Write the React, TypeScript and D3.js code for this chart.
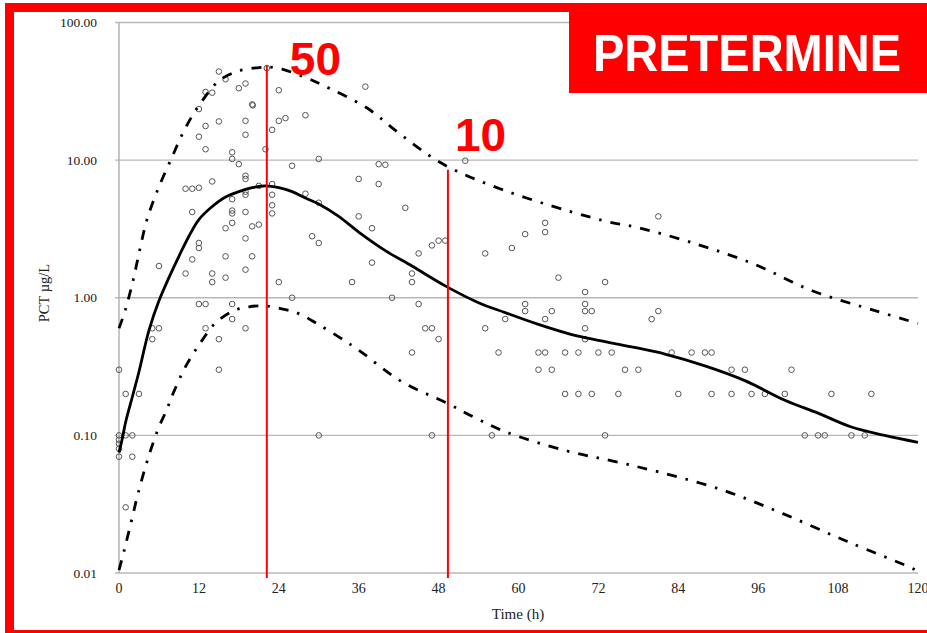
import React from "react";
import * as d3 from "d3";

// ---- data ----
const xTicks = [0, 12, 24, 36, 48, 60, 72, 84, 96, 108, 120];
const yTicks = [0.01, 0.1, 1, 10, 100];
const yTickLabels = ["0.01", "0.10", "1.00", "10.00", "100.00"];

const medianHours = [0, 0.5, 1, 2, 3, 4.5, 6, 7.5, 9, 10.5, 12, 14, 16, 18, 20, 22, 24, 26, 28, 30, 33, 36, 40, 44, 49, 54, 58, 63, 68, 72, 77, 82, 88, 94, 100, 105, 110, 115, 120];
const medianValues = [0.075, 0.095, 0.125, 0.19, 0.29, 0.58, 0.95, 1.4, 2.0, 2.8, 3.7, 4.6, 5.4, 5.9, 6.3, 6.5, 6.3, 5.9, 5.3, 4.8, 3.9, 3.0, 2.2, 1.7, 1.22, 0.92, 0.78, 0.64, 0.54, 0.49, 0.44, 0.39, 0.32, 0.25, 0.18, 0.145, 0.115, 0.1, 0.089];

const upperHours = [0, 0.9, 2.1, 3.15, 4.2, 6, 8, 9.5, 11, 12.5, 15, 18, 21, 22.5, 24.5, 28.5, 30.2, 37.2, 42.2, 48.6, 57.2, 67.3, 74.2, 77.2, 86.2, 95.2, 104.2, 113.8, 120];
const upperValues = [0.6, 0.8, 1.33, 2.26, 3.7, 6.4, 10.6, 15.4, 21, 27, 37.7, 44.5, 47, 47.5, 45.8, 39, 35.8, 24, 15.5, 9.4, 6.2, 4.3, 3.5, 3.3, 2.5, 1.77, 1.12, 0.8, 0.65];

const lowerHours = [0, 0.75, 1.9, 3.05, 4.4, 5.9, 7.2, 8, 9.9, 11.4, 12.6, 14.4, 17.1, 19.5, 22.2, 25, 27.2, 29.7, 33, 36.2, 42.2, 49.4, 53.8, 58.3, 67.3, 74.2, 81.2, 90.7, 99.7, 109.3, 118.8, 120];
const lowerValues = [0.0105, 0.0144, 0.0243, 0.041, 0.069, 0.112, 0.155, 0.195, 0.31, 0.41, 0.5, 0.65, 0.8, 0.86, 0.87, 0.82, 0.76, 0.65, 0.52, 0.41, 0.25, 0.17, 0.132, 0.105, 0.077, 0.065, 0.054, 0.04, 0.027, 0.017, 0.011, 0.0103];

const scatter: [number, number][] = [
  [15, 44], [16, 38.7], [13, 31.3], [14, 30.9], [18, 33.3], [19, 36], [22.2, 46.6], [24, 32.2], [20, 25.4], [20.1, 25],
  [12, 23.5], [15, 19.1], [13, 17.7], [12, 14.8], [19, 19.3], [19, 15.3], [24, 19.3], [25, 20.2], [23, 16.6], [28, 21.2],
  [13, 12], [17, 11.4], [17, 10.2], [18, 9.35], [22, 12], [26, 9.1], [19, 7.7], [19, 7.3], [14, 7],
  [10, 6.2], [11, 6.2], [12, 6.3], [21, 6.5], [23, 6.7], [28, 5.7], [23, 5.6], [19, 5.6], [19, 5.9], [17, 5.2],
  [11, 4.2], [17, 4.3], [17, 4.1], [17, 3.5], [19, 4.2], [23, 4.7], [23, 4.1], [16, 3.2], [20, 3.3], [21, 3.4], [19, 2.7],
  [12, 2.5], [12, 2.3], [11, 1.9], [16, 2], [20, 2], [6, 1.7], [10, 1.5], [14, 1.5], [14, 1.3], [16, 1.4], [19, 1.6], [24, 1.3],
  [12, 0.9], [13, 0.9], [17, 0.9], [26, 1], [17, 0.7], [13, 0.6], [19, 0.6], [15, 0.5], [5, 0.6], [6, 0.6], [5, 0.5], [15, 0.3],
  [0, 0.3], [1, 0.2], [3, 0.2], [29, 2.8], [30, 2.5],
  [0, 0.1], [1, 0.1], [2, 0.1], [0, 0.093], [0, 0.087], [0, 0.08], [0, 0.07], [2, 0.07], [1, 0.03],
  [30, 0.1], [47, 0.1], [56, 0.1], [73, 0.1], [103, 0.1], [105, 0.1], [106, 0.1], [110, 0.1], [112, 0.1],
  [30, 10.2], [37, 34.2], [39, 9.35], [40, 9.25], [36, 7.3], [39, 6.7], [43, 4.5], [36, 3.9], [52, 9.9], [30, 4.9],
  [38, 3.2], [48, 2.6], [49, 2.6], [47, 2.4], [45, 2.1], [38, 1.8], [35, 1.3], [44, 1.5], [44, 1.3], [41, 1], [45, 0.9],
  [46, 0.6], [47, 0.6], [48, 0.5], [44, 0.4],
  [64, 3.5], [64, 3], [61, 2.9], [59, 2.3], [55, 2.1], [66, 1.4], [73, 1.3], [70, 1.1], [61, 0.9], [61, 0.8], [70, 0.9], [70, 0.8], [71, 0.8],
  [65, 0.8], [64, 0.7], [58, 0.7], [55, 0.6], [70, 0.6], [70, 0.5], [57, 0.4], [63, 0.4], [64, 0.4], [67, 0.4], [69, 0.4], [72, 0.4], [74, 0.4],
  [63, 0.3], [65, 0.3], [67, 0.2], [69, 0.2], [71, 0.2], [75, 0.2],
  [81, 3.9], [80, 0.7], [81, 0.8], [83, 0.4], [86, 0.4], [88, 0.4], [89, 0.4], [76, 0.3], [78, 0.3], [92, 0.3], [94, 0.3], [101, 0.3],
  [84, 0.2], [89, 0.2], [92, 0.2], [95, 0.2], [97, 0.2], [100, 0.2], [107, 0.2], [113, 0.2],
];

const refHours = [22.2, 49.4];
const refTops = [49, 8.5];
const refLabels = ["50", "10"];
const refLabelValues = [41.6, 11.6];

const title = "PRETERMINE";
const xTitle = "Time (h)";
const yTitle = "PCT µg/L";

// ---- chart ----
const W = 927;
const H = 633;
const serif = "'Liberation Serif', 'Times New Roman', serif";
const sans = "'Liberation Sans', Arial, sans-serif";

export default function App() {
  const x = d3.scaleLinear().domain([0, 120]).range([119, 918]);
  const y = d3.scaleLog().domain([0.01, 100]).range([573, 22.5]);

  const mk = (hs: number[], vs: number[]) =>
    d3
      .line<number>()
      .x((_, i) => x(hs[i]))
      .y((_, i) => y(vs[i]))
      .curve(d3.curveCatmullRom.alpha(0.5))(hs) || "";

  const dash = "10,9,2.5,9";

  return (
    <svg
      width={W}
      height={H}
      style={{ position: "absolute", left: 0, top: 0, background: "#fff" }}
    >
      <rect x={0} y={0} width={W} height={H} fill="#fff" />
      {/* grid */}
      {yTicks.map((t, i) => (
        <g key={"g" + i}>
          <line x1={x(0) - 4} x2={x(120)} y1={y(t)} y2={y(t)} stroke="#b8b8b8" strokeWidth={1.3} />
          <text
            x={97}
            y={y(t)}
            dy="0.35em"
            textAnchor="end"
            fontFamily={serif}
            fontSize={13.5}
            fill="#222"
          >
            {yTickLabels[i]}
          </text>
        </g>
      ))}
      <line x1={x(0)} x2={x(0)} y1={y(100)} y2={y(0.01)} stroke="#a8a8a8" strokeWidth={1.3} />
      {xTicks.map((t) => (
        <text
          key={"x" + t}
          x={x(t)}
          y={593}
          textAnchor="middle"
          fontFamily={serif}
          fontSize={14}
          fill="#222"
        >
          {t}
        </text>
      ))}
      <text x={518} y={619} textAnchor="middle" fontFamily={serif} fontSize={15} fill="#222">
        {xTitle}
      </text>
      <text
        transform={`translate(49,${293}) rotate(-90)`}
        textAnchor="middle"
        fontFamily={serif}
        fontSize={14.5}
        fill="#222"
      >
        {yTitle}
      </text>

      {/* scatter */}
      {scatter.map(([h, v], i) => (
        <circle key={"p" + i} cx={x(h)} cy={y(v)} r={2.8} fill="none" stroke="#555" strokeWidth={1} />
      ))}

      {/* curves */}
      <path d={mk(upperHours, upperValues)} fill="none" stroke="#000" strokeWidth={2.8} strokeDasharray={dash} />
      <path d={mk(lowerHours, lowerValues)} fill="none" stroke="#000" strokeWidth={2.8} strokeDasharray={dash} />
      <path d={mk(medianHours, medianValues)} fill="none" stroke="#000" strokeWidth={2.8} />

      {/* reference lines */}
      {refHours.map((h, i) => (
        <g key={"r" + i}>
          <line x1={x(h)} x2={x(h)} y1={y(refTops[i])} y2={y(0.01) + 5} stroke="#ff0000" strokeWidth={2} />
          <text
            x={x(h) + (i === 0 ? 23 : 7)}
            y={y(refLabelValues[i])}
            fontFamily={sans}
            fontWeight="bold"
            fontSize={46}
            fill="#ff0000"
          >
            {refLabels[i]}
          </text>
        </g>
      ))}

      {/* frame */}
      <path d={`M ${W + 20} 7.5 H 9.5 V 634.5 H ${W + 20}`} fill="none" stroke="#ff0000" strokeWidth={9} />
      <rect x={569} y={3} width={W - 569 + 5} height={90} fill="#ff0000" />
      <text
        transform="translate(747,71) scale(1,1.1)"
        textAnchor="middle"
        fontFamily={sans}
        fontWeight="bold"
        fontSize={47}
        fill="#fff"
      >
        {title}
      </text>
    </svg>
  );
}
